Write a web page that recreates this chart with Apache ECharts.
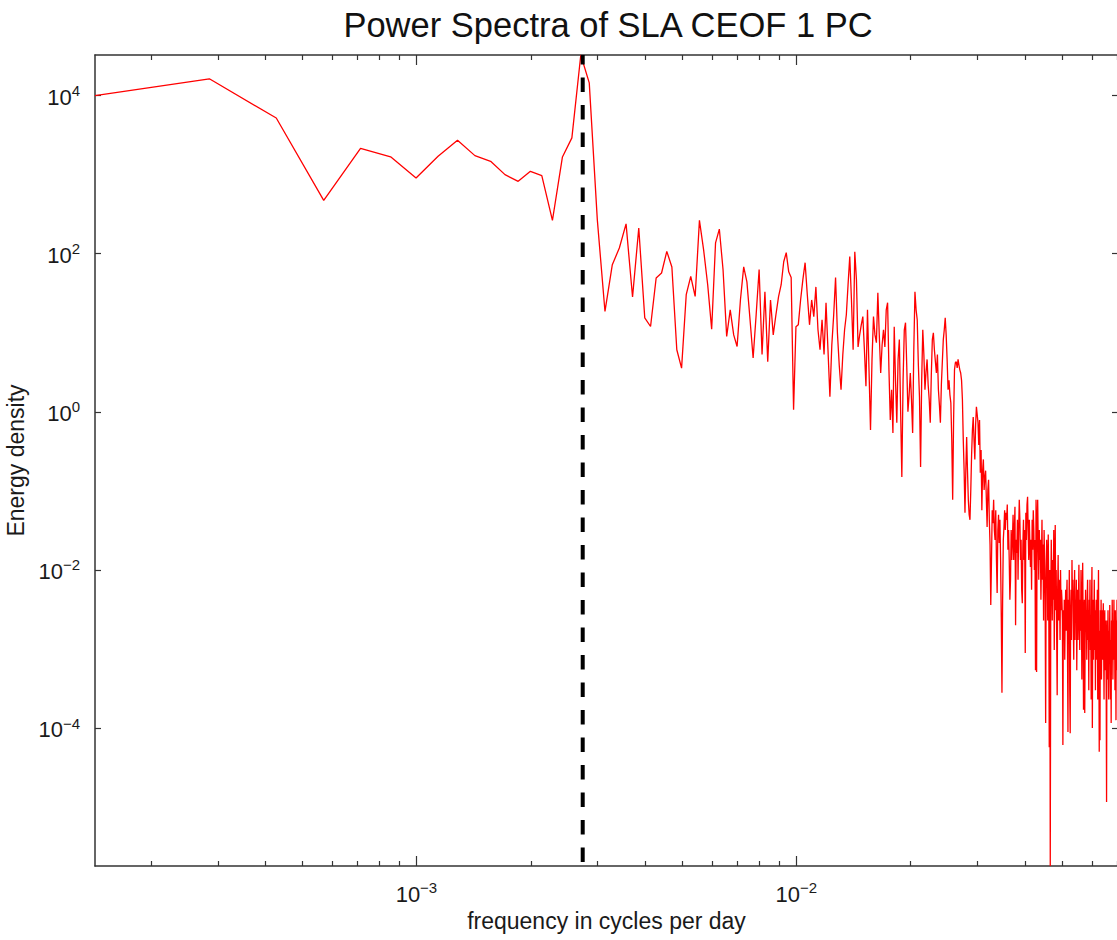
<!DOCTYPE html>
<html>
<head>
<meta charset="utf-8">
<script src="https://cdn.jsdelivr.net/npm/echarts@6.0.0/dist/echarts.min.js"></script>
<style>
html, body { margin: 0; padding: 0; background: #ffffff; }
#chart { width: 1117px; height: 940px; }
</style>
</head>
<body>
<div id="chart"></div>
<script>
// ---------------- data ----------------
const titleText = 'Power Spectra of SLA CEOF 1 PC';
const xAxisTitle = 'frequency in cycles per day';
const yAxisTitle = 'Energy density';

// spectral bins are spaced evenly in frequency (cycles per day)
const freqStep = 1 / 7016;
// annual cycle marker (dashed line)
const annualFrequency = 1 / 365;

// energy density, bins 1..50
const energyLow = [
  1.0e4, 1.63e4, 5.2e3, 473, 2150, 1680, 908, 1705, 2720, 1740,
  1473, 1000, 822, 1100, 971, 264, 1675, 2917, 32600, 14490,
  270, 18.6, 72.6, 118, 238, 28.3, 211, 15.4, 12, 49.3,
  57, 107, 68, 6.1, 3.57, 30.3, 51.6, 28.8, 264, 112,
  40.5, 11.1, 137, 205, 62.7, 9.0, 19.5, 9.4, 6.7, 26
];
// energy density, bins 51..200
const energyMid = [
  68, 44, 14.6, 4.8, 16.9, 63, 5.3, 33, 4.3, 26,
  9.4, 16.9, 28.6, 40.5, 79, 103, 59, 50, 1.06, 11.9,
  12.6, 26, 47, 77, 30, 12.6, 26, 16, 38, 10.9,
  6.1, 14.6, 5.3, 24, 6.1, 1.55, 7.0, 16.9, 50, 10,
  3.9, 1.9, 5.3, 10.9, 16.9, 40.5, 92, 26, 6.1, 106,
  47, 6.6, 9.4, 12.6, 16, 6.1, 2.1, 19.5, 3.4, 0.59,
  4.6, 16, 9.4, 7.5, 32, 9.4, 3.1, 7.0, 10.9, 6.6,
  19.5, 24, 3.4, 0.79, 1.9, 0.54, 11.9, 2.5, 0.73, 4.6,
  8.2, 1.06, 0.15, 2.5, 10.9, 13.4, 3.9, 1.0, 1.64, 3.1,
  1.42, 0.54, 6.1, 33, 19.5, 14.6, 3.9, 1.55, 0.20, 2.5,
  10.9, 5.3, 1.9, 3.2, 4.6, 2.2, 1.42, 0.73, 2.9, 8.2,
  10, 6.1, 4.3, 3.1, 5.3, 1.9, 1.23, 0.73, 2.2, 4.3,
  8.2, 10.9, 15.5, 9.4, 4.6, 1.9, 2.5, 1.64, 1.3, 0.44,
  0.077, 0.79, 3.4, 4.2, 4.3, 3.6, 4.6, 3.9, 3.4, 3.1,
  2.5, 1.42, 0.44, 0.18, 0.053, 0.18, 0.48, 0.18, 0.077, 0.050
];
// energy density, bins 201..493
const energyHigh = [
  0.043, 0.103, 0.29, 0.59, 0.86, 0.44, 0.25, 0.68, 1.16, 0.92,
  0.73, 0.38, 0.79, 0.17, 0.33, 0.057, 0.18, 0.25, 0.103, 0.15,
  0.18, 0.077, 0.035, 0.103, 0.138, 0.043, 0.021, 0.0036, 0.0134, 0.057,
  0.039, 0.077, 0.032, 0.024, 0.057, 0.0134, 0.0051, 0.032, 0.050, 0.022,
  0.043, 0.0134, 0.0025, 0.00028, 0.0042, 0.024, 0.035, 0.057, 0.032, 0.053,
  0.043, 0.067, 0.018, 0.032, 0.0134, 0.0042, 0.0075, 0.032, 0.0134, 0.024,
  0.050, 0.0134, 0.032, 0.063, 0.0020, 0.024, 0.0164, 0.043, 0.0075, 0.032,
  0.077, 0.043, 0.0134, 0.024, 0.0056, 0.0038, 0.021, 0.043, 0.0134, 0.032,
  0.00089, 0.053, 0.024, 0.067, 0.084, 0.032, 0.0134, 0.043, 0.021, 0.0109,
  0.024, 0.0056, 0.043, 0.018, 0.057, 0.032, 0.010, 0.024, 0.00054, 0.077,
  0.00051, 0.043, 0.077, 0.021, 0.0075, 0.032, 0.0134, 0.024, 0.0042, 0.0134,
  0.043, 0.0075, 0.021, 0.0023, 0.032, 0.0134, 0.0042, 0.000116, 0.010, 0.024,
  0.0134, 0.0023, 0.028, 0.0056, 0.000057, 0.010, 1.8e-6, 0.0042, 0.024, 0.0075,
  0.0023, 0.0134, 0.0042, 0.032, 0.00097, 0.0075, 0.037, 0.0031, 0.010, 0.0013,
  0.00026, 0.0056, 0.0155, 0.0023, 0.0075, 0.0042, 0.0013, 0.010, 0.0031, 0.0056,
  0.0042, 0.0023, 0.000061, 0.0031, 0.0013, 0.0042, 0.00073, 0.0027, 0.0056, 0.0017,
  0.0042, 0.0075, 0.00097, 0.000089, 0.0042, 0.0023, 0.010, 0.00030, 0.000086, 0.0031,
  0.0056, 0.0013, 0.0134, 0.0042, 0.0075, 0.0023, 0.00073, 0.0042, 0.010, 0.0013,
  0.0042, 0.0023, 0.0075, 0.00054, 0.0031, 0.0056, 0.0013, 0.0042, 0.0116, 0.0023,
  0.00097, 0.0042, 0.0017, 0.010, 0.0031, 0.00041, 0.0042, 0.0123, 0.0023, 0.00017,
  0.0023, 0.0042, 0.000155, 0.0013, 0.0056, 0.0017, 0.0031, 0.00073, 0.0042, 0.0075,
  0.0013, 0.0031, 0.00030, 0.0042, 0.0017, 0.0075, 0.00097, 0.0023, 0.00023, 0.0042,
  0.0109, 0.0001, 0.0017, 0.0042, 0.00073, 0.0023, 0.0075, 0.00097, 0.0031, 0.00030,
  0.0023, 0.0042, 0.00073, 0.0017, 0.0056, 0.00023, 0.0023, 0.010, 0.00097, 0.00005,
  0.0017, 0.00007, 0.0031, 0.00097, 0.0042, 0.00041, 0.0017, 0.0031, 0.00073, 0.0023,
  0.0038, 0.00097, 0.00023, 0.0017, 0.0031, 0.00054, 0.0013, 0.0023, 0.00030, 0.0000116,
  0.0013, 0.0023, 0.00041, 0.0031, 0.00097, 0.00023, 0.0017, 0.00073, 0.0036, 0.00097,
  0.00023, 0.0013, 0.000116, 0.0023, 0.00073, 0.0042, 0.0013, 0.00041, 0.0023, 0.00097,
  0.0042, 0.00073, 0.0017, 0.00030, 0.0031, 0.0013, 0.000126, 0.0023, 0.00097, 0.0042,
  0.00054, 0.0017, 0.00097
];

// tick positions (decade exponents and minor log ticks)
const xMajorExponents = [-3, -2];
const yMajorExponents = [-4, -2, 0, 2, 4];
const xMinorTickValues = [
  2e-4, 3e-4, 4e-4, 5e-4, 6e-4, 7e-4, 8e-4, 9e-4,
  2e-3, 3e-3, 4e-3, 5e-3, 6e-3, 7e-3, 8e-3, 9e-3,
  2e-2, 3e-2, 4e-2, 5e-2, 6e-2, 7e-2
];

// ---------------- build the chart ----------------
const energy = energyLow.concat(energyMid, energyHigh);
const frequency = energy.map((_, i) => (i + 1) * freqStep);
const lg = Math.log10;

// axes are drawn in decades (log10 space), tight to the data like the original
const xMin = lg(frequency[0]);
const xMax = lg(frequency[frequency.length - 1]);
const yMin = lg(Math.min.apply(null, energy));
const yMax = lg(Math.max.apply(null, energy));

const spectrumData = frequency.map((f, i) => [lg(f), lg(energy[i])]);
const annualLineData = [[lg(annualFrequency), yMax], [lg(annualFrequency), yMin]];

const FONT = '"Liberation Sans", Arial, Helvetica, sans-serif';
const INK = '#1a1a1a';
const FRAME = '#333333';

function expLabel(v) {
  const e = Math.round(v);
  return '{b|10}{s|' + (e < 0 ? '\u2212' + Math.abs(e) : String(e)) + '}';
}
const labelRich = {
  b: { fontSize: 22, fontFamily: FONT, color: INK, lineHeight: 25, verticalAlign: 'bottom' },
  s: { fontSize: 15, fontFamily: FONT, color: INK, lineHeight: 15, verticalAlign: 'top' }
};
const frameLine = { show: true, onZero: false, lineStyle: { color: FRAME, width: 1.5 } };
const noLine = { show: false, onZero: false };

function xAxisDef(position, isMajor, withLabels) {
  const vals = isMajor ? xMajorExponents : xMinorTickValues.map(lg);
  return {
    type: 'value', position: position, min: xMin, max: xMax,
    axisLine: isMajor ? frameLine : noLine,
    splitLine: { show: false },
    axisTick: { show: true, inside: true, length: isMajor ? 10 : 5, customValues: vals,
      lineStyle: { color: FRAME, width: 1.2 } },
    axisLabel: withLabels
      ? { show: true, customValues: xMajorExponents, formatter: expLabel, margin: 14, rich: labelRich }
      : { show: false },
    name: withLabels ? xAxisTitle : '',
    nameLocation: 'middle', nameGap: 42,
    nameTextStyle: { fontSize: 23, fontFamily: FONT, color: INK }
  };
}
function yAxisDef(position, withLabels) {
  return {
    type: 'value', position: position, min: yMin, max: yMax,
    axisLine: frameLine,
    splitLine: { show: false },
    axisTick: { show: true, inside: true, length: 6, customValues: yMajorExponents,
      lineStyle: { color: FRAME, width: 1.2 } },
    axisLabel: withLabels
      ? { show: true, customValues: yMajorExponents, formatter: expLabel, margin: 15, rich: labelRich }
      : { show: false },
    name: withLabels ? yAxisTitle : '',
    nameLocation: 'middle', nameGap: 59,
    nameTextStyle: { fontSize: 23, fontFamily: FONT, color: INK }
  };
}

const chart = echarts.init(document.getElementById('chart'), null, { renderer: 'svg' });
chart.setOption({
  animation: false,
  backgroundColor: '#ffffff',
  title: {
    text: titleText, left: 603, top: 2, textAlign: 'center',
    textStyle: { fontSize: 34.5, fontWeight: 'normal', fontFamily: FONT, color: '#111111' }
  },
  grid: { left: 95, top: 55, width: 1023, height: 811, containLabel: false, outerBoundsMode: 'none' },
  xAxis: [
    xAxisDef('bottom', true, true),
    xAxisDef('bottom', false, false),
    xAxisDef('top', true, false),
    xAxisDef('top', false, false)
  ],
  yAxis: [
    yAxisDef('left', true),
    yAxisDef('right', false)
  ],
  series: [
    {
      type: 'line', name: 'spectrum', data: spectrumData,
      xAxisIndex: 0, yAxisIndex: 0,
      symbol: 'none', showSymbol: false, silent: true, clip: true,
      lineStyle: { color: '#ff0000', width: 1.3 }, z: 2
    },
    {
      type: 'line', name: 'annual', data: annualLineData,
      xAxisIndex: 0, yAxisIndex: 0,
      symbol: 'none', showSymbol: false, silent: true,
      lineStyle: { color: '#000000', width: 4, type: [14.5, 13], dashOffset: 5 }, z: 3
    }
  ]
});
</script>
</body>
</html>
